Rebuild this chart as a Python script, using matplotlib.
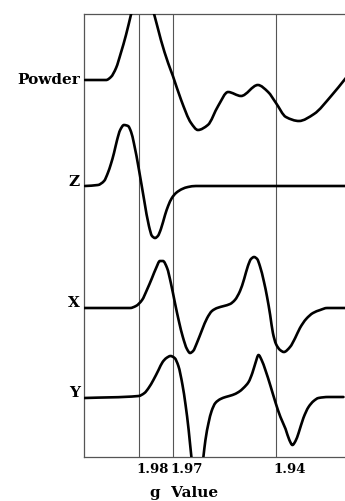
import matplotlib
matplotlib.use("Agg")
import numpy as np
import matplotlib.pyplot as plt
import matplotlib.transforms as mtransforms
from matplotlib.path import Path
from matplotlib.patches import PathPatch

# ---------------- data ----------------
trace_names = ["Powder", "Z", "X", "Y"]
baselines = [377, 271, 149, 59]          # vertical offset of each trace

g_powder = [1.9958, 1.9896, 1.9882, 1.9867, 1.9853, 1.9838, 1.9823, 1.9809, 1.9791,
            1.9774, 1.9756, 1.9736, 1.9715, 1.9701, 1.9677, 1.9648, 1.9628, 1.9599,
            1.9569, 1.9540, 1.9502, 1.9453, 1.9423, 1.9400, 1.9371, 1.9333, 1.9289,
            1.9239, 1.9196]
a_powder = [0, 0, 3, 12, 27, 45, 66, 85, 97, 85, 66, 40, 17, 4, -20, -43, -50, -45,
            -26, -12, -16, -5, -12, -23, -37, -41, -34, -16, 2]

g_z = [1.9958, 1.9920, 1.9902, 1.9891, 1.9882, 1.9873, 1.9864, 1.9855, 1.9844, 1.9832,
       1.9823, 1.9815, 1.9800, 1.9785, 1.9771, 1.9762, 1.9753, 1.9745, 1.9736, 1.9724,
       1.9715, 1.9704, 1.9692, 1.9674, 1.9657, 1.9634, 1.9196]
a_z = [0, 1, 5, 13, 22, 33, 46, 56, 61, 60, 54, 43, 16, -14, -40, -50, -52, -50, -43,
       -29, -20, -12, -7, -3, -1, 0, 0]

g_x = [1.9961, 1.9826, 1.9809, 1.9791, 1.9777, 1.9762, 1.9750, 1.9739, 1.9730, 1.9718,
       1.9707, 1.9695, 1.9683, 1.9672, 1.9660, 1.9651, 1.9642, 1.9631, 1.9616, 1.9601,
       1.9587, 1.9572, 1.9552, 1.9534, 1.9520, 1.9505, 1.9493, 1.9482, 1.9473, 1.9464,
       1.9455, 1.9447, 1.9435, 1.9426, 1.9417, 1.9409, 1.9400, 1.9388, 1.9377, 1.9359,
       1.9344, 1.9330, 1.9312, 1.9292, 1.9271, 1.9251, 1.9199]
a_x = [0, 0, 2, 8, 18, 30, 40, 47, 47, 40, 25, 5, -14, -29, -41, -45, -43, -35, -22,
       -10, -3, 0, 2, 4, 8, 17, 29, 42, 49, 51, 49, 42, 26, 11, -7, -25, -36, -42, -44,
       -39, -30, -20, -11, -5, -2, 0, 0]

g_y = [1.9959, 1.9801, 1.9784, 1.9772, 1.9758, 1.9743, 1.9731, 1.9720, 1.9708, 1.9696,
       1.9685, 1.9673, 1.9664, 1.9655, 1.9647, 1.9638, 1.9629, 1.9620, 1.9612, 1.9606,
       1.9597, 1.9588, 1.9577, 1.9562, 1.9547, 1.9527, 1.9509, 1.9495, 1.9480, 1.9469,
       1.9460, 1.9451, 1.9442, 1.9431, 1.9416, 1.9401, 1.9387, 1.9372, 1.9361, 1.9352,
       1.9343, 1.9334, 1.9320, 1.9305, 1.9290, 1.9276, 1.9247, 1.9203]
a_y = [0, 2, 5, 10, 18, 28, 36, 40, 42, 40, 32, 13, -7, -32, -59, -82, -92, -82, -59,
       -42, -25, -13, -5, -1, 1, 3, 6, 10, 16, 25, 35, 43, 38, 28, 12, -5, -19, -31, -42,
       -47, -43, -35, -20, -9, -3, 0, 1, 1]

tick_g = [1.98, 1.97, 1.94]
tick_labels = ["1.98", "1.97", "1.94"]
xlabel = "g  Value"


def smooth_path(xs, ys):
    """Cubic Bezier path through every read point, with monotone (PCHIP) tangents."""
    x = np.asarray(xs, float)
    y = np.asarray(ys, float)
    n = len(x)
    h = np.diff(x)
    d = np.diff(y) / h
    m = np.zeros(n)
    m[0], m[-1] = d[0], d[-1]
    for k in range(1, n - 1):
        if d[k - 1] * d[k] <= 0:
            m[k] = 0.0
        else:
            w1 = 2 * h[k] + h[k - 1]
            w2 = h[k] + 2 * h[k - 1]
            m[k] = (w1 + w2) / (w1 / d[k - 1] + w2 / d[k])
    verts = [(x[0], y[0])]
    codes = [Path.MOVETO]
    for k in range(n - 1):
        hk = h[k]
        verts += [(x[k] + hk / 3, y[k] + m[k] * hk / 3),
                  (x[k + 1] - hk / 3, y[k + 1] - m[k + 1] * hk / 3),
                  (x[k + 1], y[k + 1])]
        codes += [Path.CURVE4] * 3
    return Path(np.array(verts), codes)


# ---------------- figure ----------------
fig = plt.figure(figsize=(3.45, 5.01), dpi=100)
ax = fig.add_axes([84 / 345, 44 / 501, 1 - 84 / 345, 443 / 501])
ax.set_xlim(1.99606, 1.91985)
ax.set_ylim(0, 443)

frame_col = "#555555"
for g in tick_g:
    ax.axvline(g, color=frame_col, lw=0.8, zorder=1)

series = [(g_powder, a_powder), (g_z, a_z), (g_x, a_x), (g_y, a_y)]
for (gs, amps), base in zip(series, baselines):
    path = smooth_path(gs, [base + a for a in amps])
    ax.add_patch(PathPatch(path, facecolor="none", edgecolor="black", lw=1.9,
                           joinstyle="round", capstyle="round", zorder=3))

serif = ["DejaVu Serif"]
label_dy = [0, 4, 5, 5]
for name, base, dy in zip(trace_names, baselines, label_dy):
    ax.annotate(name, xy=(0, base), xycoords=("axes fraction", "data"),
                xytext=(-3, dy * 0.72), textcoords="offset points",
                ha="right", va="center", family=serif, fontweight="bold",
                fontsize=11, annotation_clip=False)

for s in ["top", "bottom", "left"]:
    ax.spines[s].set_color(frame_col)
    ax.spines[s].set_linewidth(0.9)
ax.spines["right"].set_visible(False)

ax.set_yticks([])
ax.set_xticks(tick_g, tick_labels)
ax.tick_params(axis="x", length=0, pad=4)
off = mtransforms.ScaledTranslation(-3 / 100, 0, fig.dpi_scale_trans)
for lbl in ax.get_xticklabels():
    lbl.set_ha("left")
    lbl.set_family(serif)
    lbl.set_fontweight("bold")
    lbl.set_fontsize(9.5)
    lbl.set_transform(lbl.get_transform() + off)

ax.set_xlabel(xlabel, family=serif, fontweight="bold", fontsize=11)
ax.xaxis.set_label_coords((184 - 84) / 261, (457 - 486) / 443)

fig.savefig("out.png", dpi=100)
